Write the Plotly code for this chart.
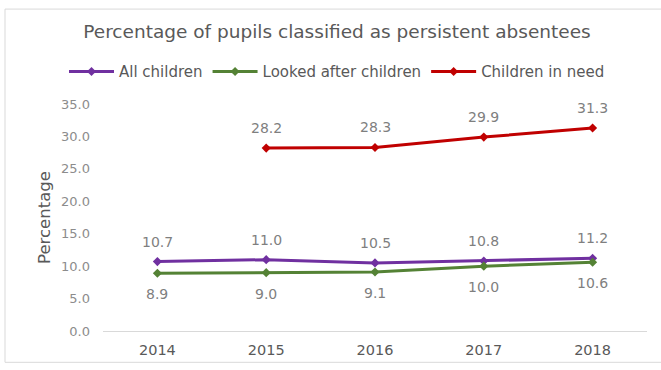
import plotly.graph_objects as go

years = ["2014", "2015", "2016", "2017", "2018"]
all_children = [10.7, 11.0, 10.5, 10.8, 11.2]
looked_after = [8.9, 9.0, 9.1, 10.0, 10.6]
in_need = [None, 28.2, 28.3, 29.9, 31.3]
y_ticks = [0, 5, 10, 15, 20, 25, 30, 35]

FONT = "DejaVu Sans"
LABEL_GREY = "#7f7f7f"

L, R, T, B = 103, 14, 104, 34
W, H = 661, 370
PW, PH = W - L - R, H - T - B

fig = go.Figure()

# yshift > 0 puts the value label above its point, < 0 below
series = [
    ("All children", all_children, "#7030A0", 20),
    ("Looked after children", looked_after, "#548235", -21),
    ("Children in need", in_need, "#C00000", 20),
]
for name, vals, color, shift in series:
    fig.add_trace(go.Scatter(
        x=years, y=vals, name=name,
        mode="lines+markers",
        line=dict(color=color, width=3),
        marker=dict(symbol="diamond", size=7, color=color),
        cliponaxis=False,
    ))
    for i, v in enumerate(vals):
        if v is None:
            continue
        fig.add_annotation(
            x=i, y=v, xref="x", yref="y", text=f"{v:.1f}",
            showarrow=False, yshift=shift,
            font=dict(family=FONT, size=14, color=LABEL_GREY),
        )

fig.update_layout(
    width=W, height=H,
    margin=dict(l=L, r=R, t=T, b=B),
    paper_bgcolor="white", plot_bgcolor="white",
    font=dict(family=FONT, color=LABEL_GREY),
    title=dict(
        text="Percentage of pupils classified as persistent absentees",
        x=337 / W, xanchor="center", y=1 - 32 / H, yanchor="middle",
        font=dict(family=FONT, size=18.5, color="#595959"),
    ),
    legend=dict(
        orientation="h", x=(337 - L) / PW, xanchor="center",
        y=(H - B - 71) / PH, yanchor="middle",
        font=dict(family=FONT, size=15, color="#595959"),
        itemwidth=45, tracegroupgap=0,
    ),
    showlegend=True,
)

fig.update_xaxes(
    type="category", range=[-0.5, 4.5],
    showgrid=False, showline=True, linecolor="#d9d9d9",
    linewidth=1, ticks="", ticklabelstandoff=6,
    tickfont=dict(family=FONT, size=14.5, color="#595959"),
    zeroline=False,
)
fig.update_yaxes(
    range=[0, 35], tickvals=y_ticks, ticktext=[f"{v:.1f}" for v in y_ticks],
    showgrid=False, zeroline=False, showline=False, ticklabelstandoff=12,
    tickfont=dict(family=FONT, size=13, color="#8c8c8c"),
    title=dict(text="Percentage", font=dict(family=FONT, size=16.5, color="#595959"),
               standoff=6),
)

# light frame around the chart (its right side runs past the page edge)
fig.add_shape(
    type="rect", xref="paper", yref="paper",
    x0=(5 - L) / PW, x1=(670 - L) / PW,
    y0=(H - B - 368) / PH, y1=(H - B - 7) / PH,
    line=dict(color="#d9d9d9", width=1), fillcolor="rgba(0,0,0,0)", layer="below",
)

fig.write_html("out.html")
